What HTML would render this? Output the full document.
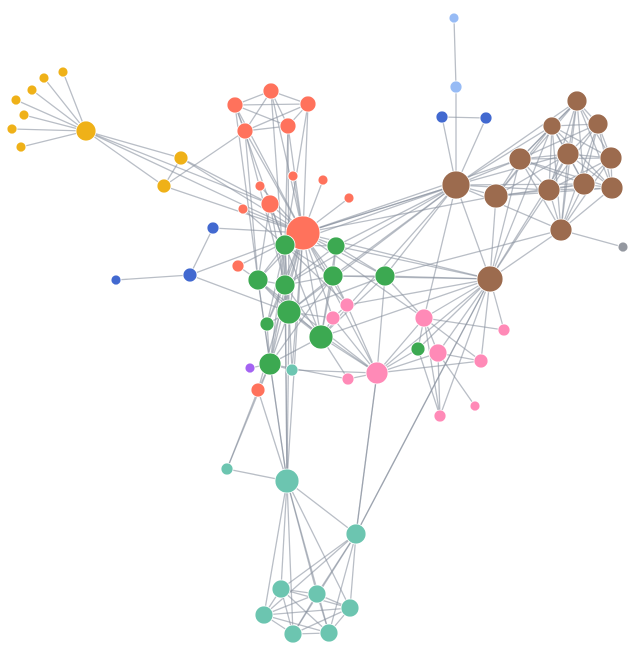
<!DOCTYPE html>
<html><head><meta charset="utf-8"><style>html,body{margin:0;padding:0;background:#fff;}svg{display:block}</style></head>
<body>
<svg id="s" width="640" height="663" viewBox="0 0 640 663" xmlns="http://www.w3.org/2000/svg"></svg>
<script>
var C={y:"#efb118",r:"#ff725c",b:"#4269d0",l:"#97bbf5",g:"#3ca951",p:"#a463f2",t:"#6cc5b0",k:"#ff8ab7",w:"#9c6b4e",x:"#9498a0"};
var N={
Y0:[86,131,10,'y'],Y1:[63,72,5,'y'],Y2:[44,78,5,'y'],Y3:[32,90,5,'y'],Y4:[16,100,5,'y'],Y5:[24,115,5,'y'],Y6:[12,129,5,'y'],Y7:[21,147,5,'y'],Y8:[181,158,7,'y'],Y9:[164,186,7,'y'],
R1:[235,105,8,'r'],R2:[271,91,8,'r'],R3:[308,104,8,'r'],R4:[245,131,8,'r'],R5:[288,126,8,'r'],R0:[303,233,17,'r'],R6:[270,204,9,'r'],R7:[260,186,5,'r'],R8:[293,176,5,'r'],R9:[323,180,5,'r'],RA:[349,198,5,'r'],RB:[243,209,5,'r'],RC:[238,266,6,'r'],RD:[258,390,7,'r'],
B1:[213,228,6,'b'],B2:[190,275,7,'b'],B3:[116,280,5,'b'],B4:[442,117,6,'b'],B5:[486,118,6,'b'],L1:[454,18,5,'l'],L2:[456,87,6,'l'],
G1:[285,245,10,'g'],G2:[336,246,9,'g'],G3:[258,280,10,'g'],G4:[285,285,10,'g'],G5:[333,276,10,'g'],G6:[385,276,10,'g'],G7:[289,312,12,'g'],G8:[267,324,7,'g'],G9:[321,337,12,'g'],GA:[418,349,7,'g'],GB:[270,364,11,'g'],
P1:[250,368,5,'p'],
T0:[292,370,6,'t'],T1:[227,469,6,'t'],T2:[287,481,12,'t'],T3:[356,534,10,'t'],T4:[281,589,9,'t'],T5:[317,594,9,'t'],T6:[350,608,9,'t'],T7:[264,615,9,'t'],T8:[293,634,9,'t'],T9:[329,633,9,'t'],
K1:[347,305,7,'k'],K2:[333,318,7,'k'],K3:[424,318,9,'k'],K4:[438,353,9,'k'],K5:[377,373,11,'k'],K6:[348,379,6,'k'],K7:[481,361,7,'k'],K8:[504,330,6,'k'],K9:[440,416,6,'k'],KA:[475,406,5,'k'],
W0:[456,185,14,'w'],W1:[496,196,12,'w'],W2:[520,159,11,'w'],W3:[552,126,9,'w'],W4:[577,101,10,'w'],W5:[598,124,10,'w'],W6:[568,154,11,'w'],W7:[611,158,11,'w'],W8:[549,190,11,'w'],W9:[584,184,11,'w'],WA:[612,188,11,'w'],WB:[561,230,11,'w'],WC:[490,279,13,'w'],
X1:[623,247,5,'x']};
var E=[];function e(a,bs){bs.split(' ').forEach(function(b){E.push([a,b]);});}
e('Y0','Y1 Y2 Y3 Y4 Y5 Y6 Y7 Y8 Y9 R0 R6');e('Y8','R0 Y9 R6');e('Y9','R0 R4');
e('R1','R2 R3 R4 R5 R0 G1 G3');e('R2','R3 R4 R5 R0 G4');e('R3','R4 R5 R0 G1');e('R4','R5 R0 G4 G3');e('R5','R0 G1 G7');
e('R0','R6 R7 R8 R9 RA RB B1 G1 G2 G3 G4 G5 G6 G7 G8 G9 GB W0 W1 W2 WC K1 K2 K5 K3 T2 T0 RD RC');
e('R6','G1 G3 G4');e('RB','G1');e('RC','G3');e('B1','B2');e('B2','B3 G7 R0');e('L1','L2');e('L2','W0');e('B4','W0 B5');e('B5','W0');
e('W0','W1 W2 W3 W4 W6 W8 W9 WB WC G1 G2 G5 G4 G6 K3 G7 R0 G9');e('W1','W2 W3 W4 W6 W8 W9 WA WC');e('W2','W3 W4 W5 W6 W7 W8 W9 WA WB');
e('W3','W4 W5 W6 W7 W8 W9 WA WB');e('W4','W5 W6 W7 W8 W9 WA WB');e('W5','W6 W7 W8 W9 WA WB');e('W6','W7 W8 W9 WA WB');e('W7','W8 W9 WA WB');e('W8','W9 WA WB WC');e('W9','WA WB');e('WA','WB');e('WB','X1 WC G6');
e('WC','K3 K4 K5 K7 K8 K9 G6 G5 K1 GA T3 G9 G2 W2 W3 W6');
e('G1','G2 G3 G4 G5 G7 G8 G9 GB T2 K1');e('G2','G5 G6 G4 G9');e('G3','G4 G7 GB G9 K5');e('G4','G5 G7 G9 GB T2 G8');e('G5','G6 G7 G9 GB K1');e('G6','G7 K3 K5 G9');e('G7','G9 GB G8 T2 K5 K2');e('G9','GB K5 K6 K2');e('GB','P1 T0 T2 RD K6 G8 T1');e('GA','K3 K9 K5');
e('K3','K4 K7 K8 K5 K9');e('K4','K5 K7 KA K9');e('K5','K6 K1 K2 T3 K7');e('K1','K2');e('T0','K5 G7');e('RD','T1 T2');
e('T2','T1 T3 T4 T5 T6 T7 T8 T9 G3');e('T3','K5 T4 T5 T6 T7 T8 T9 WC');e('T4','T5 T6 T7 T8 T9');e('T5','T6 T7 T8 T9');e('T6','T7 T8 T9');e('T7','T8 T9');e('T8','T9');
var s=document.getElementById('s'),h='';
E.forEach(function(p){var a=N[p[0]],b=N[p[1]];if(!a||!b)return;h+='<line x1="'+a[0]+'" y1="'+a[1]+'" x2="'+b[0]+'" y2="'+b[1]+'" stroke="#8a93a0" stroke-opacity="0.6" stroke-width="1.3"/>';});
for(var k in N){var n=N[k];h+='<circle cx="'+n[0]+'" cy="'+n[1]+'" r="'+n[2]+'" fill="'+C[n[3]]+'" stroke="#fff" stroke-width="0.8"/>';}
s.innerHTML=h;
</script>
</body></html>
